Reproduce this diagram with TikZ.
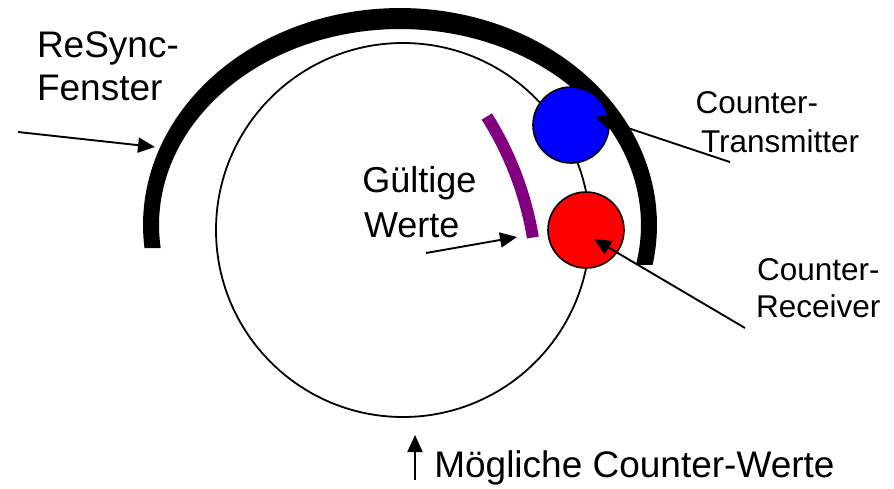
\documentclass[tikz,border=0pt]{standalone}
\usepackage{fontspec}
\setmainfont{Liberation Sans}
\usetikzlibrary{arrows.meta}
\definecolor{mypurple}{RGB}{128,0,128}
\begin{document}
\begin{tikzpicture}[x=1pt,y=-1pt,
  lbl/.style={anchor=base west, inner sep=0pt, outer sep=0pt},
  big/.style={font=\fontsize{37}{44}\selectfont},
  mid/.style={font=\fontsize{36}{43}\selectfont},
  small/.style={font=\fontsize{31.5}{38}\selectfont},
  arr/.style={-{Triangle[length=17pt,width=15pt]}, line width=1.9pt},
  dot/.style={circle, draw, line width=1.6pt, minimum size=76pt, inner sep=0pt}]
\useasboundingbox (0,0) rectangle (894,488);
\fill[white] (0,0) rectangle (894,488);
% main circle of possible counter values
\node[circle, draw, line width=1.8pt, minimum size=374pt, inner sep=0pt] (ring) at (403,230) {};
% resync window (thick block arc)
\fill[black] plot[domain=173.9:370.6, samples=90] ({400+257*cos(\x)},{225+217*sin(\x)})
  -- plot[domain=371.8:173.26, samples=90] ({400+241*cos(\x)},{225+196*sin(\x)}) -- cycle;
% valid values arc
\draw[mypurple, line width=12pt] plot[domain=-32.2:-9.5, samples=40] ({208.4+329*cos(\x)},{291.8+329*sin(\x)});
% counters
\node[dot, fill=blue] (tx) at (571,125) {};
\node[dot, fill=red] (rx) at (586,230) {};
% labels
\node[lbl, big] (rs1) at (37,57) {ReSync-};
\node[lbl, big] (rs2) at (37,100) {Fenster};
\node[lbl, mid] (gw1) at (362.3,192) {Gültige};
\node[lbl, mid] (gw2) at (364,237) {Werte};
\node[lbl, small] (ct1) at (695.5,113) {Counter-};
\node[lbl, small] (ct2) at (701,152) {Transmitter};
\node[lbl, small] (cr1) at (757,280) {Counter-};
\node[lbl, small] (cr2) at (756,317) {Receiver};
\node[lbl, big] (mcw) at (434.3,477) {Mögliche Counter-Werte};
% arrow ends
\coordinate (rsT) at (18,132);   \coordinate (rsH) at (155,147);
\coordinate (gwT) at (426,253);  \coordinate (gwH) at (517,237);
\coordinate (ctT) at (730,162);  \coordinate (ctH) at (595,117);
\coordinate (crT) at (745,328);  \coordinate (crH) at (594,239);
\coordinate (mcT) at (415,480);  \coordinate (mcH) at (415,435);
\draw[arr] (rsT) -- (rsH);
\draw[arr] (gwT) -- (gwH);
\draw[arr] (ctT) -- (ctH);
\draw[arr] (crT) -- (crH);
\draw[arr] (mcT) -- (mcH);
\end{tikzpicture}
\end{document}
